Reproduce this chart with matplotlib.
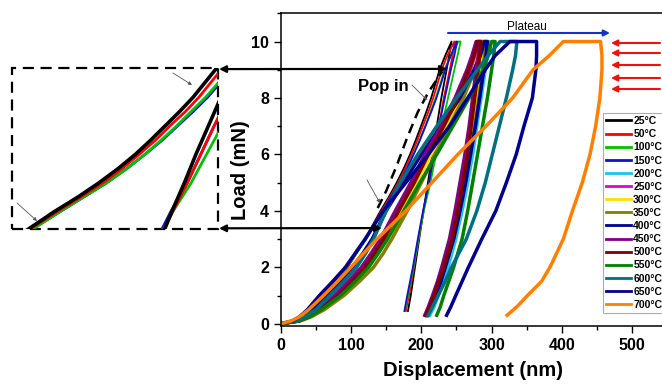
import matplotlib
matplotlib.use("Agg")
import matplotlib.pyplot as plt
from matplotlib.patches import Rectangle
from matplotlib.ticker import MultipleLocator

plt.rcParams['font.family'] = ['Liberation Sans', 'DejaVu Sans']
plt.rcParams['font.weight'] = 'bold'

temps = ['25°C', '50°C', '100°C', '150°C', '200°C', '250°C', '300°C', '350°C',
         '400°C', '450°C', '500°C', '550°C', '600°C', '650°C', '700°C']
colors = ['#000000', '#ff0000', '#00c000', '#1010d0', '#20c0f0', '#e000d0', '#ffe000', '#808000',
          '#000090', '#800080', '#800000', '#008000', '#007080', '#00008c', '#ff8000']

# load levels (mN) at which displacements were read off
# low temperature curves (25-150 C), finer because they appear in the inset
load_up_a = [0, 0.1, 0.25, 0.5, 1, 1.5, 2, 2.5, 3, 3.5, 4, 4.5, 5, 5.5, 6, 6.5, 7, 7.5, 8, 8.5, 9, 9.5, 10]
load_dn_a = [10, 9.5, 9, 8, 7, 6, 5, 4, 3, 2, 1, 0.45]
# other curves (200-700 C)
load_up = [0, 0.1, 0.25, 0.5, 1, 1.5, 2, 2.5, 3, 4, 5, 6, 7, 8, 9, 9.5, 10]
load_dn = [10, 9.5, 9, 8, 7, 6, 5, 4, 3, 2, 1.5, 1, 0.6, 0.3]

# displacement (nm) on loading
h_up_25 = [0, 20, 32, 45, 65, 81, 95, 108, 120, 131, 142, 154, 165, 175, 184, 192, 199.5, 207, 214, 220, 226, 234, 243]
h_up_50 = [0, 19, 31, 44, 64, 80, 95, 108, 121, 132, 143.5, 155.5, 167, 177, 186, 194.5, 202, 210, 217, 223, 229, 237, 247]
h_up_100 = [0, 18, 30, 43, 62, 78, 94, 108, 122, 133.5, 145, 157, 169, 179.5, 189, 197.5, 205.5, 213, 220.5, 227, 233, 242, 253]
h_up_150 = [0, 18, 29, 41, 59, 76, 92, 107, 121, 133, 145, 157, 169, 179.5, 189, 198, 206, 214, 221.5, 228, 234, 242, 250]
h_up_200 = [0, 25, 39, 55, 78, 99, 118, 132, 145, 168, 190, 212, 235, 258, 278, 286, 292]
h_up_250 = [0, 24, 37, 52, 75, 96, 115, 129, 142, 165, 186, 208, 230, 252, 270, 277, 283]
h_up_300 = [0, 26, 41, 58, 82, 103, 122, 137, 150, 172, 193, 214, 236, 258, 275, 281, 286]
h_up_350 = [0, 28, 44, 62, 90, 112, 132, 146, 158, 180, 200, 220, 240, 260, 276, 283, 288]
h_up_400 = [0, 20, 32, 45, 65, 84, 102, 117, 130, 150, 175, 200, 228, 255, 275, 284, 290]
h_up_450 = [0, 25, 39, 55, 78, 97, 115, 129, 142, 163, 185, 205, 228, 248, 265, 272, 278]
h_up_500 = [0, 26, 40, 57, 82, 102, 120, 134, 147, 168, 190, 210, 232, 252, 268, 275, 280]
h_up_550 = [0, 26, 41, 58, 85, 106, 125, 139, 152, 175, 198, 222, 245, 268, 288, 295, 300]
h_up_600 = [0, 22, 35, 50, 70, 90, 108, 121, 132, 150, 170, 195, 222, 250, 280, 295, 312]
h_up_650 = [0, 17, 27, 38, 55, 74, 92, 106, 120, 146, 178, 210, 240, 266, 291, 305, 326]
h_up_700 = [0, 15, 27, 40, 61, 81, 100, 118, 137, 178, 215, 252, 292, 330, 359, 382, 402]

# displacement (nm) on unloading (first value = end of the hold at 10 mN)
h_dn_25 = [243, 239.5, 236, 228.5, 222, 215.5, 209.5, 203, 197, 191, 185, 181]
h_dn_50 = [248, 244.5, 240.5, 232, 225, 218, 211, 203.5, 196, 189.5, 182.5, 178]
h_dn_100 = [256, 251.5, 247, 238, 229, 221, 213, 203.5, 196, 189, 181, 176.5]
h_dn_150 = [251, 247, 242, 233.5, 225, 218, 211, 202.5, 195, 188, 180, 176]
h_dn_200 = [296, 294, 291, 285, 279, 273, 266, 258, 249, 238, 231, 224, 218, 212]
h_dn_250 = [288, 286, 283, 278, 272, 266, 259, 251, 242, 231, 225, 219, 214, 209]
h_dn_300 = [290, 288, 285, 280, 274, 268, 261, 253, 244, 232, 225, 218, 211, 205]
h_dn_350 = [292, 290, 287, 282, 276, 270, 263, 255, 246, 234, 227, 220, 213, 206]
h_dn_400 = [294, 292, 289, 283, 277, 270, 263, 255, 246, 234, 228, 221, 214, 208]
h_dn_450 = [283, 281, 278, 273, 268, 262, 255, 248, 240, 229, 223, 216, 210, 205]
h_dn_500 = [285, 283, 281, 276, 271, 266, 259, 252, 244, 232, 225, 218, 212, 207]
h_dn_550 = [305, 303, 300, 294, 287, 280, 273, 266, 258, 246, 239, 232, 227, 222]
h_dn_600 = [336, 334, 330, 321, 311, 301, 291, 279, 264, 243, 234, 224, 216, 210]
h_dn_650 = [364, 364, 363, 358, 346, 335, 321, 306, 286, 267, 258, 249, 242, 236]
h_dn_700 = [455, 457, 457, 454, 448, 440, 429, 415, 402, 383, 371, 351, 336, 322]

h_up_all = [h_up_25, h_up_50, h_up_100, h_up_150, h_up_200, h_up_250, h_up_300, h_up_350,
            h_up_400, h_up_450, h_up_500, h_up_550, h_up_600, h_up_650, h_up_700]
h_dn_all = [h_dn_25, h_dn_50, h_dn_100, h_dn_150, h_dn_200, h_dn_250, h_dn_300, h_dn_350,
            h_dn_400, h_dn_450, h_dn_500, h_dn_550, h_dn_600, h_dn_650, h_dn_700]

# pop-in guide (dashed)
popin_h = [138, 150, 165, 180, 195, 210, 230]
popin_P = [4.1, 4.7, 5.6, 6.6, 7.5, 8.2, 8.95]


def curve(i):
    if i < 4:
        return h_up_all[i] + h_dn_all[i], load_up_a + load_dn_a
    return h_up_all[i] + h_dn_all[i], load_up + load_dn


W, H = 662, 384
fig = plt.figure(figsize=(W / 100, H / 100), dpi=100)
ax = fig.add_axes([280.7 / W, (H - 326) / H, (666 - 280.7) / W, (326 - 13.3) / H])

for i in range(len(temps)):
    h, P = curve(i)
    lw = 1.3 if i < 4 else 2.5
    ax.plot(h, P, color=colors[i], lw=lw, label=temps[i], zorder=2 + i * 0.01,
            solid_joinstyle='round')

ax.plot(popin_h, popin_P, color='black', lw=1.8, ls=(0, (4, 2.5)), zorder=3)

ax.set_xlim(0, (666 - 280.7) / 0.703)
ax.set_ylim(-0.08, 11)
ax.xaxis.set_major_locator(MultipleLocator(100))
ax.xaxis.set_minor_locator(MultipleLocator(50))
ax.yaxis.set_major_locator(MultipleLocator(2))
ax.yaxis.set_minor_locator(MultipleLocator(1))
ax.tick_params(which='major', direction='out', length=5, width=1, labelsize=11.5)
ax.tick_params(which='minor', direction='out', length=3, width=1)
ax.spines['right'].set_visible(False)
for s in ['left', 'bottom', 'top']:
    ax.spines[s].set_linewidth(1.1)

ax.set_xlabel('Displacement (nm)', fontsize=14.5, fontweight='bold', va='center')
ax.xaxis.set_label_coords(0.5, -0.141)
ax.set_ylabel('Load (mN)', fontsize=14.5, fontweight='bold', va='center')
ax.yaxis.set_label_coords(-(280.7 - 240) / (666 - 280.7), 0.5)

leg = ax.legend(loc='upper left', bbox_to_anchor=(603 / W, 1 - 113 / H),
                bbox_transform=fig.transFigure, fontsize=7.5, frameon=True,
                fancybox=False, edgecolor='#999999', borderaxespad=0, borderpad=0.3,
                labelspacing=0.3, handlelength=2.4, handletextpad=0.2)
leg.get_frame().set_linewidth(0.8)
for line in leg.get_lines():
    line.set_linewidth(2)

# annotations
fig.text(358 / W, 1 - 87 / H, 'Pop in', fontsize=12, fontweight='bold', va='center', ha='left')
fig.text(527 / W, 1 - 27 / H, 'Plateau', ha='center', va='center', fontsize=8.5, fontweight='normal')
ax.annotate('', xy=(610 / W, 1 - 33 / H), xytext=(448 / W, 1 - 33 / H),
            xycoords='figure fraction', textcoords='figure fraction',
            arrowprops=dict(arrowstyle='-|>', color='#1a2fc8', lw=1.5,
                            mutation_scale=9, shrinkA=0, shrinkB=0))
for yy in [43, 53, 65, 78, 89]:
    ax.annotate('', xy=(611 / W, 1 - yy / H), xytext=(660 / W, 1 - yy / H),
                xycoords='figure fraction', textcoords='figure fraction',
                arrowprops=dict(arrowstyle='-|>', color='#ee1111', lw=1.5,
                                mutation_scale=9, shrinkA=0, shrinkB=0))

# thin grey pointers
for (x0, y0, x1, y1) in [(412, 85, 427, 100), (367, 180, 380, 203),
                         (173, 73, 192, 85), (17, 203, 37, 221)]:
    ax.annotate('', xy=(x1 / W, 1 - y1 / H), xytext=(x0 / W, 1 - y0 / H),
                xycoords='figure fraction', textcoords='figure fraction',
                arrowprops=dict(arrowstyle='-|>', color='#555555', lw=0.6,
                                mutation_scale=5, shrinkA=0, shrinkB=0))

# arrows linking plot to inset
for (yP, xh) in [(9.03, 236.6), (3.39, 144.0)]:
    ypx = 324 - yP * 28.23
    ax.annotate('', xy=(219 / W, 1 - ypx / H), xycoords='figure fraction',
                xytext=(xh, yP), textcoords='data', annotation_clip=False,
                arrowprops=dict(arrowstyle='<|-|>', color='black', lw=1.6,
                                mutation_scale=10, shrinkA=0, shrinkB=0))

# zoomed inset
ax_in = fig.add_axes([12 / W, (H - 229) / H, 206 / W, 161 / H])
for i in [3, 2, 1, 0]:
    h, P = curve(i)
    ax_in.plot(h, P, color=colors[i], lw=2.6 if i == 0 else 2.0, solid_joinstyle='round')
ax_in.set_xlim(120, 227)
ax_in.set_ylim(3.39, 9.03)
ax_in.axis('off')
ax_in.add_patch(Rectangle((0, 0), 1, 1, transform=ax_in.transAxes, fill=False,
                          ls=(0, (5, 3)), lw=1.6, color='black', clip_on=False))

fig.savefig('out.png', dpi=100)
